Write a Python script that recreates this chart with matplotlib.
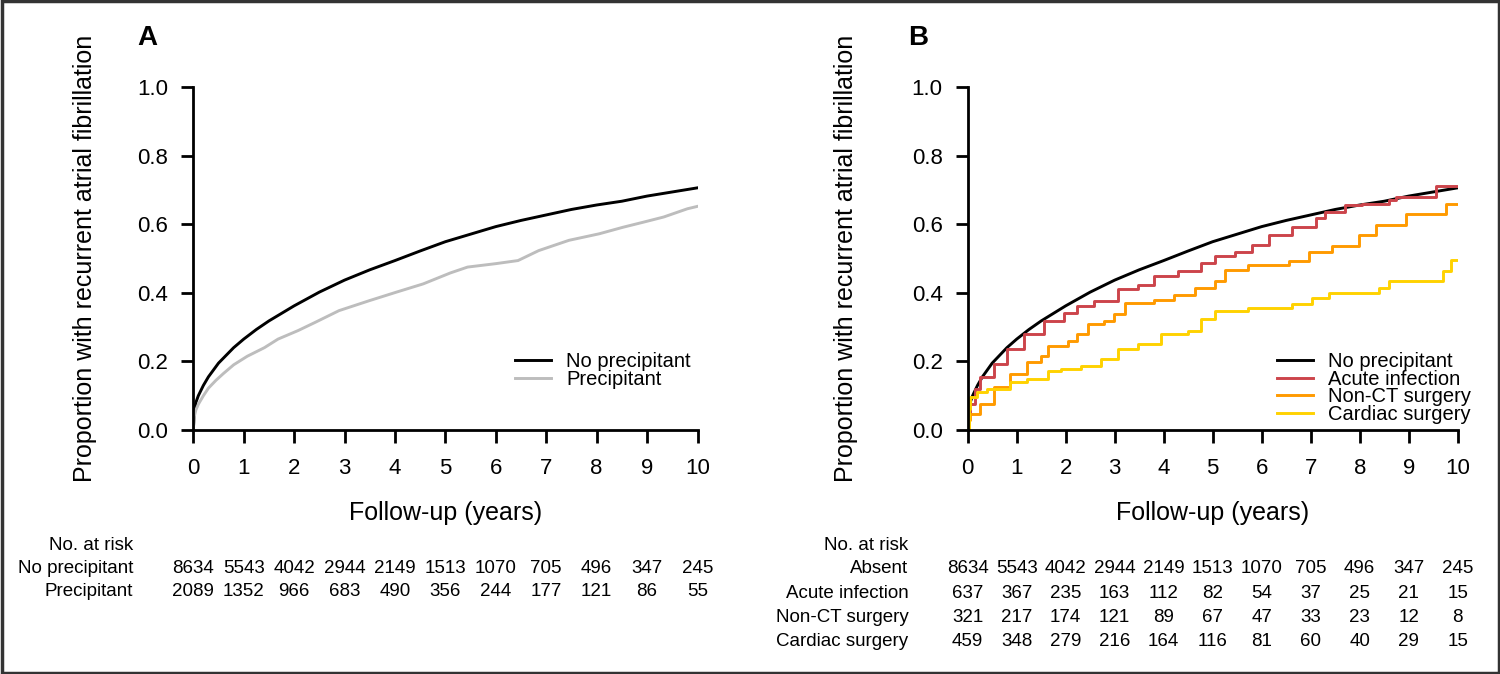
import numpy as np
import matplotlib
matplotlib.use("Agg")
from matplotlib import pyplot as plt
from matplotlib import transforms as mtransforms
from matplotlib.patches import Rectangle

plt.rcParams['font.family'] = ['Liberation Sans', 'DejaVu Sans']

# cumulative incidence curves (years, proportion)
t_none = [0, 0.02, 0.05, 0.1, 0.2, 0.3, 0.4, 0.5, 0.6, 0.8, 1.0, 1.25, 1.5, 1.75, 2.0, 2.5,
          3.0, 3.5, 4.0, 4.5, 5.0, 5.5, 6.0, 6.5, 7.0, 7.5, 8.0, 8.5, 9.0, 9.5, 10]
p_none = [0, 0.05, 0.08, 0.1, 0.13, 0.155, 0.175, 0.195, 0.21, 0.24, 0.265, 0.293, 0.318, 0.34,
          0.362, 0.402, 0.437, 0.467, 0.494, 0.522, 0.549, 0.571, 0.593, 0.611, 0.627, 0.643,
          0.656, 0.667, 0.682, 0.694, 0.706]

t_prec = [0, 0.02, 0.05, 0.1, 0.2, 0.3, 0.45, 0.6, 0.8, 1.07, 1.41, 1.68, 2.08, 2.42, 2.89,
          3.49, 4.03, 4.56, 5.1, 5.44, 6.0, 6.44, 6.85, 7.45, 8.05, 8.52, 8.93, 9.33, 9.8, 10]
p_prec = [0, 0.04, 0.058, 0.075, 0.1, 0.122, 0.145, 0.165, 0.19, 0.215, 0.24, 0.265, 0.29,
          0.314, 0.348, 0.377, 0.402, 0.426, 0.458, 0.475, 0.485, 0.494, 0.523, 0.553, 0.572,
          0.591, 0.606, 0.621, 0.645, 0.652]

t_inf = [0, 0.02, 0.05, 0.15, 0.26, 0.53, 0.81, 1.15, 1.56, 1.97, 2.24, 2.58, 3.06, 3.47, 3.81,
         4.29, 4.77, 5.04, 5.45, 5.8, 6.14, 6.62, 7.1, 7.3, 7.71, 8.05, 8.6, 8.74, 9.55, 10]
p_inf = [0, 0.05, 0.077, 0.12, 0.154, 0.193, 0.236, 0.28, 0.318, 0.342, 0.361, 0.376, 0.41, 0.424,
         0.448, 0.463, 0.487, 0.506, 0.52, 0.54, 0.569, 0.593, 0.617, 0.636, 0.655, 0.66, 0.67,
         0.68, 0.712, 0.712]

t_nct = [0, 0.02, 0.05, 0.26, 0.53, 0.87, 1.22, 1.49, 1.63, 2.04, 2.24, 2.45, 2.79, 2.99, 3.2,
         3.81, 4.22, 4.63, 5.04, 5.25, 5.73, 6.55, 6.96, 7.44, 7.98, 8.33, 8.94, 9.76, 10]
p_nct = [0, 0.03, 0.048, 0.077, 0.125, 0.164, 0.198, 0.217, 0.246, 0.26, 0.28, 0.308, 0.318,
         0.337, 0.371, 0.38, 0.395, 0.414, 0.434, 0.467, 0.482, 0.492, 0.52, 0.535, 0.569, 0.598,
         0.631, 0.66, 0.66]

t_card = [0, 0.02, 0.05, 0.19, 0.4, 0.87, 1.22, 1.63, 1.9, 2.31, 2.72, 3.06, 3.47, 3.95, 4.5,
          4.77, 5.04, 5.73, 6.62, 7.03, 7.37, 8.39, 8.6, 9.69, 9.86, 10]
p_card = [0, 0.06, 0.096, 0.111, 0.12, 0.14, 0.149, 0.173, 0.178, 0.188, 0.207, 0.236, 0.251,
          0.28, 0.289, 0.323, 0.347, 0.357, 0.366, 0.386, 0.4, 0.414, 0.434, 0.463, 0.496, 0.496]

# numbers at risk
risk_years = list(range(11))
risk_a_labels = ['No precipitant', 'Precipitant']
risk_a = [[8634, 5543, 4042, 2944, 2149, 1513, 1070, 705, 496, 347, 245],
          [2089, 1352, 966, 683, 490, 356, 244, 177, 121, 86, 55]]
risk_b_labels = ['Absent', 'Acute infection', 'Non-CT surgery', 'Cardiac surgery']
risk_b = [[8634, 5543, 4042, 2944, 2149, 1513, 1070, 705, 496, 347, 245],
          [637, 367, 235, 163, 112, 82, 54, 37, 25, 21, 15],
          [321, 217, 174, 121, 89, 67, 47, 33, 23, 12, 8],
          [459, 348, 279, 216, 164, 116, 81, 60, 40, 29, 15]]

W, H = 1500, 674
fig = plt.figure(figsize=(15, 6.74), dpi=100)

# border round the whole figure
fig.patches.append(Rectangle((0.001, 0.002), 0.998, 0.996, transform=fig.transFigure,
                             fill=False, edgecolor='#333333', linewidth=2.5))

axA = fig.add_axes([193.3 / W, 1 - 430 / H, 504.2 / W, 343 / H])
axB = fig.add_axes([967.7 / W, 1 - 430 / H, 490 / W, 343 / H])


def style_axis(ax, label_off):
    ax.set_xlim(0, 10)
    ax.set_ylim(0, 1)
    ax.set_xticks(range(11))
    ax.set_yticks([0, 0.2, 0.4, 0.6, 0.8, 1.0])
    ax.set_yticklabels(['0.0', '0.2', '0.4', '0.6', '0.8', '1.0'])
    for s in ['top', 'right']:
        ax.spines[s].set_visible(False)
    for s in ['left', 'bottom']:
        ax.spines[s].set_linewidth(2)
    ax.tick_params(axis='both', length=9, width=2, labelsize=16)
    ax.tick_params(axis='y', pad=9)
    ax.tick_params(axis='x', pad=11)
    ax.set_xlabel('Follow-up (years)', fontsize=18, labelpad=16)
    ax.set_ylabel('Proportion with recurrent atrial fibrillation', fontsize=18)
    ax.yaxis.set_label_coords(-label_off / (ax.get_position().width * W), 0.5)


def risk_table(ax, labels, rows, label_x, row_y):
    trans = mtransforms.blended_transform_factory(ax.transData, fig.transFigure)
    fig.text(label_x / W, 1 - 545 / H, 'No. at risk', ha='right', va='center', fontsize=13.5)
    for lab, vals, y in zip(labels, rows, row_y):
        fig.text(label_x / W, 1 - y / H, lab, ha='right', va='center', fontsize=13.5)
        for yr, v in zip(risk_years, vals):
            ax.text(yr, 1 - y / H, str(v), transform=trans, ha='center', va='center',
                    fontsize=13.5, clip_on=False)


leg_kw = dict(loc='upper left', frameon=False, fontsize=14.5, handlelength=1.8,
              handletextpad=0.75, labelspacing=-0.08, borderpad=0, borderaxespad=0)

# Panel A
axA.plot(t_none, p_none, color='black', lw=2.1, label='No precipitant')
axA.plot(t_prec, p_prec, color='#bdbdbd', lw=2.1, label='Precipitant')
style_axis(axA, 96)
axA.legend(bbox_to_anchor=(0.638, 0.226), **leg_kw)
fig.text(147 / W, 1 - 38 / H, 'A', fontsize=20, fontweight='bold', ha='center', va='center')
risk_table(axA, risk_a_labels, risk_a, 133.3, [568.3, 591.7])

# Panel B
axB.plot(t_none, p_none, color='black', lw=2.1, label='No precipitant')
axB.plot(t_inf, p_inf, color='#cc444b', lw=2.1, drawstyle='steps-post', label='Acute infection')
axB.plot(t_nct, p_nct, color='#ff9a00', lw=2.1, drawstyle='steps-post', label='Non-CT surgery')
axB.plot(t_card, p_card, color='#ffd200', lw=2.1, drawstyle='steps-post', label='Cardiac surgery')
style_axis(axB, 110)
axB.legend(bbox_to_anchor=(0.631, 0.226), **leg_kw)
fig.text(918 / W, 1 - 38 / H, 'B', fontsize=20, fontweight='bold', ha='center', va='center')
risk_table(axB, risk_b_labels, risk_b, 908.3, [568.3, 593.3, 617.7, 641.7])

fig.savefig('out.png', dpi=100)
